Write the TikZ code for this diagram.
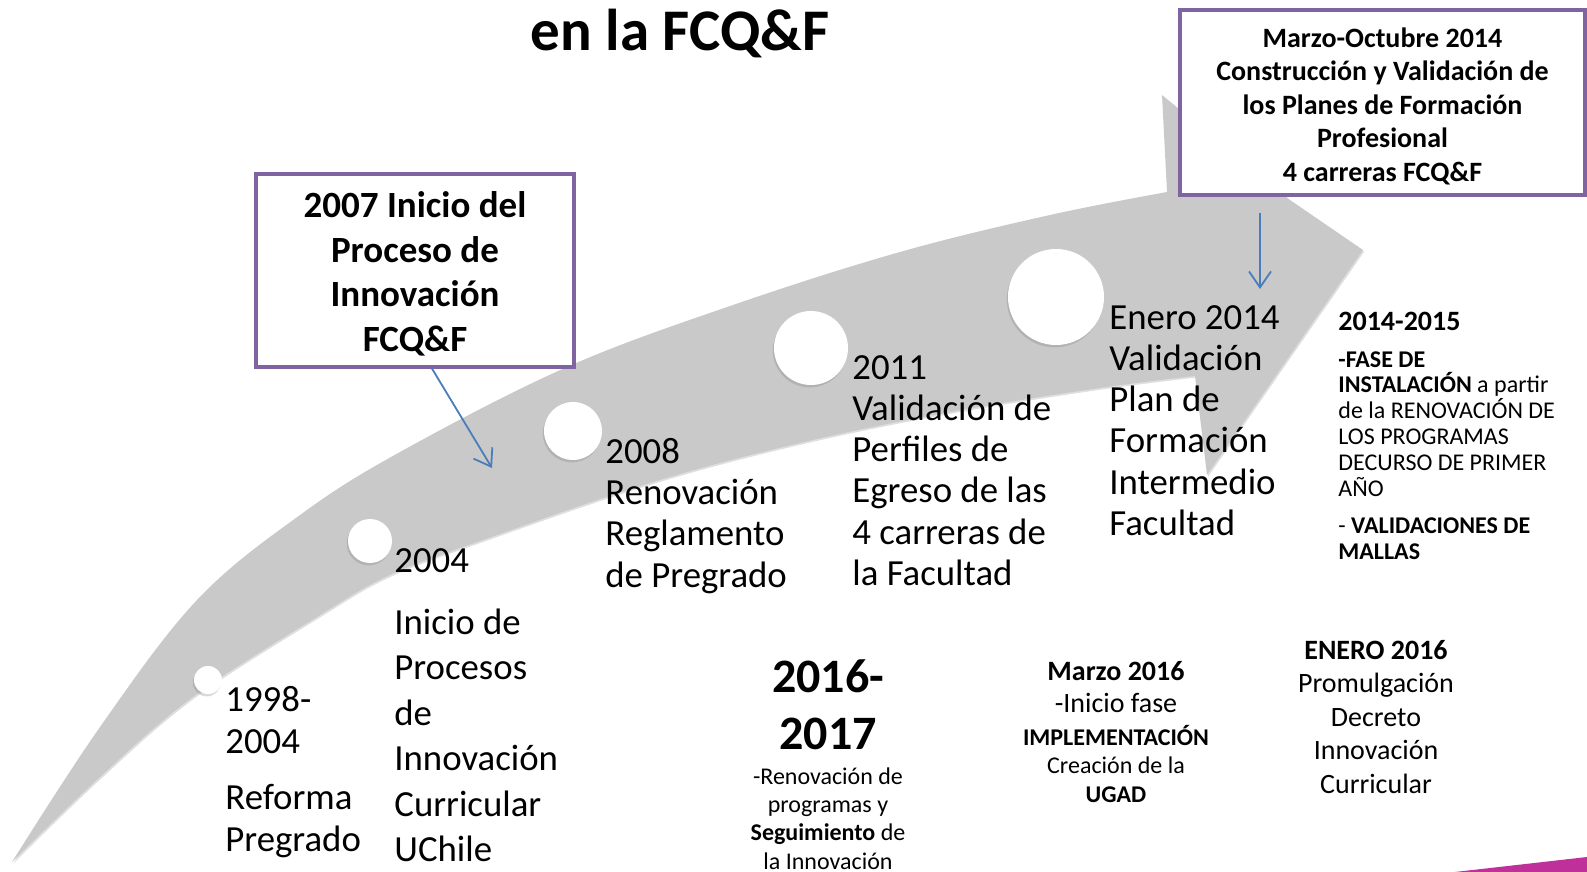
\documentclass[tikz,border=0pt]{standalone}
\usepackage{fontspec}
\setmainfont{Carlito}
\usetikzlibrary{arrows.meta,shadows}
\definecolor{boxpurple}{HTML}{8064A2}
\definecolor{arrowblue}{HTML}{4A7EBB}
\definecolor{bandgrey}{HTML}{C9C9C9}
\definecolor{cornermagenta}{HTML}{C0309A}

\begin{document}
\begin{tikzpicture}[x=0.5pt, y=-0.5pt,
    dot/.style={circle, fill=white, inner sep=0pt,
        drop shadow={shadow xshift=-0.6pt, shadow yshift=-1.2pt, opacity=0.3}},
    milestone/.style={anchor=north west, inner sep=0pt, align=left},
    notebox/.style={draw=boxpurple, line width=1.6pt, fill=white, align=center, inner sep=0pt},
    pointer/.style={draw=arrowblue, line width=0.9pt, -{Straight Barb[length=8pt,width=11pt]}}]
    \useasboundingbox (0,0) rectangle (1587,872);

    \fill[bandgrey, drop shadow={shadow xshift=0.6pt, shadow yshift=-0.8pt, opacity=0.25}]
        (12,862) -- plot[smooth, tension=0.6] coordinates {(12,862) (100,727) (197,600) (300,515) (400,452) (567,367) (733,305) (900,252) (1050,215) (1167,192)}
        -- (1162,95) -- (1290,200) -- (1363,250) -- (1207,475) -- (1195,376)
        -- plot[smooth, tension=0.6] coordinates {(1195,376) (1100,388) (950,412) (800,443) (650,483) (483,540) (390,575) (317,617) (193,697) (100,777) (12,862)}
        -- cycle;
    \fill[cornermagenta] (1455,872) -- (1587,857) -- (1587,872) -- cycle;

    \node[anchor=base, font=\bfseries\fontsize{29.5}{35}\selectfont] (title) at (680,51) {en la FCQ\&F};

    \node[dot, minimum size=14pt] (c1998) at (208,680) {};
    \node[dot, minimum size=22pt] (c2004) at (370,541) {};
    \node[dot, minimum size=29pt] (c2008) at (573,431) {};
    \node[dot, minimum size=37pt] (c2011) at (811,348) {};
    \node[dot, minimum size=48pt] (c2014) at (1056,297) {};

    \node[milestone, font=\fontsize{18.4}{20.8}\selectfont] (t1998) at (225,686) {1998-\\2004\\[7.5pt]Reforma\\Pregrado};
    \node[milestone, font=\fontsize{18.4}{22.75}\selectfont] (t2004) at (394,548) {2004\\[8.2pt]Inicio de\\Procesos\\de\\Innovación\\Curricular\\UChile};
    \node[milestone, font=\fontsize{18.4}{20.6}\selectfont] (t2008) at (605,438) {2008\\Renovación\\Reglamento\\de Pregrado};
    \node[milestone, font=\fontsize{18.4}{20.6}\selectfont] (t2011) at (852,355) {2011\\Validación de\\Perfiles de\\Egreso de las\\4 carreras de\\la Facultad};
    \node[milestone, font=\fontsize{18.4}{20.6}\selectfont] (t2014) at (1109,305) {Enero 2014\\Validación\\Plan de\\Formación\\Intermedio\\Facultad};

    \node[milestone, font=\bfseries\fontsize{14}{16}\selectfont] (h1415) at (1338,312) {2014-2015};
    \node[milestone, font=\fontsize{12}{12.9}\selectfont] (t1415) at (1338,351) {\textbf{-FASE DE}\\\textbf{INSTALACIÓN} a partir\\de la RENOVACIÓN DE\\LOS PROGRAMAS\\DECURSO DE PRIMER\\AÑO\\[5.8pt]- \textbf{VALIDACIONES DE}\\\textbf{MALLAS}};

    \node[anchor=north, align=center, inner sep=0pt, font=\bfseries\fontsize{24}{28.5}\selectfont] (h1617) at (828,659) {2016-\\2017};
    \node[anchor=north, align=center, inner sep=0pt, font=\fontsize{12}{14.2}\selectfont] (t1617) at (828,767) {-Renovación de\\programas y\\\textbf{Seguimiento} de\\la Innovación};
    \node[anchor=north, align=center, inner sep=0pt, font=\fontsize{12}{14.2}\selectfont] (tmarzo) at (1116,661) {{\fontsize{14}{16}\selectfont\textbf{Marzo 2016}}\\[1.8pt]{\fontsize{14}{16}\selectfont -Inicio fase}\\[2.3pt]\textbf{IMPLEMENTACIÓN}\\Creación de la\\\textbf{UGAD}};
    \node[anchor=north, align=center, inner sep=0pt, font=\fontsize{14}{16.7}\selectfont] (tenero) at (1376,640) {\textbf{ENERO 2016}\\Promulgación\\Decreto\\Innovación\\Curricular};

    \node[notebox, minimum width=159pt, minimum height=96.5pt, font=\bfseries\fontsize{18.5}{22.3}\selectfont] (inicio) at (415,270.5) {\rule{0pt}{16.5pt}2007 Inicio del\\Proceso de\\Innovación\\FCQ\&F};
    \node[notebox, minimum width=202.5pt, minimum height=92.5pt, font=\bfseries\fontsize{14}{16.7}\selectfont] (planes) at (1382.5,102.5) {\rule{0pt}{13.5pt}Marzo-Octubre 2014\\Construcción y Validación de\\los Planes de Formación\\Profesional\\4 carreras FCQ\&F};

    \coordinate (inicio tip) at (492,468);
    \coordinate (planes tip) at (1260,289);
    \draw[pointer] ([xshift=8.5pt]inicio.south) -- (inicio tip);
    \draw[pointer] ([xshift=-61.25pt,yshift=-8pt]planes.south) -- (planes tip);
\end{tikzpicture}
\end{document}
